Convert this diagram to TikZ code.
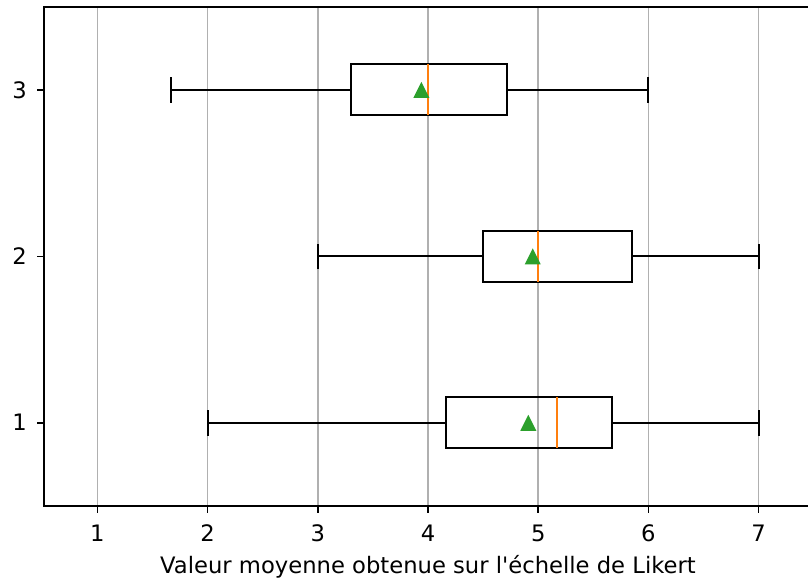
\documentclass[tikz,border=0pt]{standalone}
\usepackage{fontspec}
\setmainfont{DejaVu Sans}[Ligatures=TeXOff]
\definecolor{gridc}{HTML}{B0B0B0}
\definecolor{medc}{HTML}{FF7F0E}
\definecolor{meanc}{HTML}{2CA02C}
\tikzset{
  gridline/.style={gridc, line width=1.2pt},
  spine/.style={black, line width=1.2pt},
  tickmark/.style={black, line width=1.2pt},
  boxline/.style={black, line width=1.5pt},
  medline/.style={medc, line width=1.5pt},
  ticklab/.style={inner sep=0pt, font=\fontsize{17}{20}\selectfont},
}
% #1 y, #2 whisker low, #3 q1, #4 median, #5 q3, #6 whisker high, #7 mean
\newcommand{\bxplot}[7]{%
  \draw[boxline] (#3,#1-0.153) rectangle (#5,#1+0.153);
  \draw[boxline] (#2,#1) -- (#3,#1) (#5,#1) -- (#6,#1);
  \draw[boxline] (#2,#1-0.077) -- (#2,#1+0.077) (#6,#1-0.077) -- (#6,#1+0.077);
  \draw[medline] (#4,#1-0.153) -- (#4,#1+0.153);
  \fill[meanc] (#7,#1) ++(0,6pt) -- ++(-6pt,-12pt) -- ++(12pt,0) -- cycle;
}
\begin{document}
\begin{tikzpicture}[x=82.67pt, y=124.82pt]
  \useasboundingbox (0.1173,0.0494) rectangle (7.4474,3.5403);
  \clip (0.1173,0.0494) rectangle (7.4474,3.5403);
  \fill[white] (0.1173,0.0494) rectangle (7.4474,3.5403);
  % grid
  \foreach \v in {1,...,7} {
    \draw[gridline] (\v,0.5) -- (\v,3.5);
  }
  % spines
  \draw[spine] (7.6,3.5) -- (0.519,3.5) -- (0.519,0.5) -- (7.6,0.5);
  % ticks and labels
  \foreach \v in {1,...,7} {
    \draw[tickmark] (\v,0.5) -- ++(0,-5.25pt);
    \node[ticklab, anchor=base] (xt\v) at (\v,0.2867) {\v};
  }
  \foreach \v in {1,2,3} {
    \draw[tickmark] (0.519,\v) -- ++(-5.25pt,0);
    \node[ticklab, anchor=base east] (yt\v) at (0.3622,\v-0.0487) {\v};
  }
  \node[ticklab, anchor=base] (xlab) at (4.0,0.0956) {Valeur moyenne obtenue sur l'échelle de Likert};
  % boxplots
  \bxplot{1}{2}{4.167}{5.167}{5.667}{7}{4.91}
  \bxplot{2}{3}{4.5}{5}{5.85}{7}{4.95}
  \bxplot{3}{1.667}{3.3}{4}{4.714}{6}{3.94}
\end{tikzpicture}
\end{document}
